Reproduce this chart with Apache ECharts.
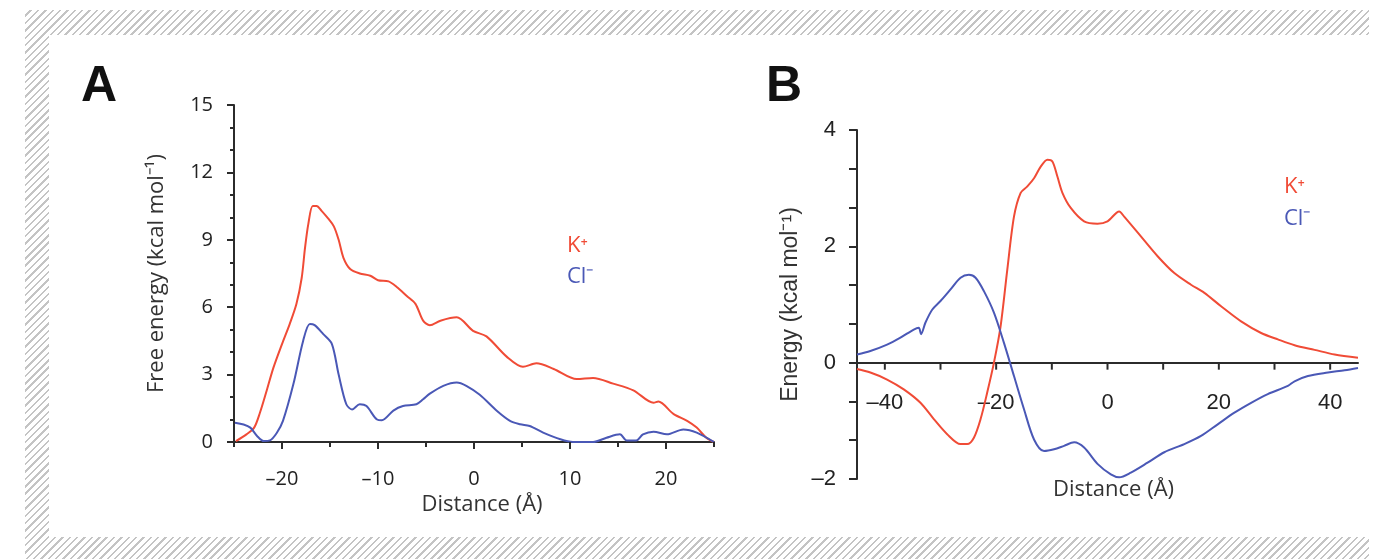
<!DOCTYPE html>
<html>
<head>
<meta charset="utf-8">
<script src="https://cdn.jsdelivr.net/npm/echarts@6/dist/echarts.min.js"></script>
<style>
  html, body { margin: 0; padding: 0; background: #fff; }
  #hatch {
    position: absolute; left: 25px; top: 10px; width: 1344px; height: 549px;
    background: repeating-linear-gradient(135deg, #fff 0px, #fff 3.5px, #c4c4c4 3.5px, #c4c4c4 5.2px);
  }
  #panel { position: absolute; left: 49px; top: 35px; right: 0; height: 502px; background: #fff; }
  #main { position: absolute; left: 0; top: 0; width: 1382px; height: 559px; }
</style>
</head>
<body>
<div id="hatch"></div>
<div id="panel"></div>
<div id="main"></div>
<script>
// panel A : free energy profiles
const distA_K = [-24.8, -23.7, -22.9, -22.3, -21.6, -20.9, -20.0, -19.2, -18.5, -17.95, -17.6, -17.26, -16.8, -16.4, -15.9, -15.2, -14.6, -14.1, -13.6, -12.9, -11.9, -10.8, -10.0, -8.9, -8.05, -7.0, -6.1, -5.3, -4.6, -3.5, -1.8, -0.1, 1.3, 3.4, 5.1, 6.5, 8.3, 10.7, 12.4, 14.5, 16.6, 18.7, 19.2, 20.8, 22.2, 23.2, 24.2, 25];
const energyA_K = [0.04, 0.34, 0.64, 1.3, 2.28, 3.3, 4.36, 5.25, 6.14, 7.3, 8.65, 9.7, 10.5, 10.5, 10.3, 9.95, 9.6, 9.0, 8.2, 7.7, 7.5, 7.4, 7.2, 7.15, 6.9, 6.5, 6.15, 5.4, 5.2, 5.4, 5.55, 4.95, 4.7, 3.8, 3.35, 3.5, 3.25, 2.8, 2.85, 2.6, 2.3, 1.75, 1.8, 1.24, 0.94, 0.64, 0.19, 0];
const distA_Cl = [-24.9, -24.0, -23.3, -22.6, -21.9, -21.25, -20.55, -19.9, -18.8, -17.8, -17.1, -16.6, -15.7, -14.8, -14.1, -13.3, -12.7, -11.9, -11.2, -10.1, -9.6, -8.4, -7.4, -6.0, -5.3, -4.6, -3.2, -1.8, -0.8, 0.6, 2.4, 3.75, 4.8, 5.8, 7.2, 9.0, 10.3, 12.4, 13.8, 15.2, 15.9, 16.9, 17.6, 18.7, 20.1, 21.8, 23.2, 25];
const energyA_Cl = [0.86, 0.78, 0.64, 0.27, 0.04, 0.07, 0.4, 0.94, 2.6, 4.5, 5.25, 5.2, 4.8, 4.36, 3.0, 1.68, 1.45, 1.68, 1.6, 1.0, 0.97, 1.4, 1.6, 1.68, 1.9, 2.15, 2.5, 2.65, 2.5, 2.1, 1.38, 0.94, 0.79, 0.71, 0.42, 0.12, 0, 0, 0.19, 0.34, 0.07, 0.07, 0.34, 0.46, 0.34, 0.56, 0.42, 0];

// panel B : energy profiles
const distB_K = [-45, -42.6, -39.6, -36.6, -33.6, -31.2, -28.8, -26.4, -25.2, -24.0, -22.8, -21.6, -20.4, -19.2, -18.0, -16.8, -15.6, -14.4, -13.2, -12.0, -10.8, -9.9, -9.0, -8.1, -6.6, -4.2, -1.8, 0, 2.1, 3.0, 6.0, 9.0, 12.0, 15.0, 17.4, 20.4, 24.0, 27.6, 30.6, 33.6, 37.2, 40.8, 45];
const energyB_K = [-0.11, -0.17, -0.29, -0.46, -0.69, -0.97, -1.23, -1.40, -1.40, -1.29, -0.97, -0.51, 0, 0.63, 1.6, 2.51, 2.92, 3.03, 3.17, 3.37, 3.49, 3.46, 3.2, 2.92, 2.66, 2.43, 2.39, 2.43, 2.6, 2.51, 2.17, 1.83, 1.54, 1.34, 1.2, 0.97, 0.71, 0.51, 0.4, 0.3, 0.22, 0.14, 0.086];
const distB_Cl = [-45, -42.6, -39.6, -37.2, -34.8, -33.9, -33.5, -32.7, -31.5, -30, -28.2, -26.4, -24.9, -23.7, -22.2, -20.4, -18.6, -16.8, -15.0, -13.2, -11.4, -9.6, -7.8, -6.0, -4.2, -1.8, 0.6, 2.1, 4.2, 7.2, 10.2, 13.8, 16.8, 19.8, 22.8, 25.8, 28.8, 32.4, 33.6, 36, 39.6, 42.6, 45];
const energyB_Cl = [0.14, 0.2, 0.31, 0.43, 0.57, 0.6, 0.49, 0.69, 0.91, 1.06, 1.26, 1.46, 1.51, 1.46, 1.23, 0.86, 0.34, -0.23, -0.8, -1.32, -1.52, -1.49, -1.43, -1.37, -1.46, -1.74, -1.92, -1.97, -1.89, -1.72, -1.54, -1.4, -1.26, -1.06, -0.86, -0.69, -0.54, -0.4, -0.32, -0.23, -0.17, -0.13, -0.09];

// tick positions
const ticksA_x = [-25, -20, -15, -10, -5, 0, 5, 10, 15, 20, 25];
const labelsA_x = [-20, -10, 0, 10, 20];
const ticksB_x = [-40, -30, -20, -10, 0, 10, 20, 30, 40];
const labelsB_x = [-40, -20, 0, 20, 40];

const seriesNames = ['K\u207A', 'Cl\u207B'];
const red = '#f04b36';
const blue = '#4a58b6';
const axisColor = '#2b2b2b';

// grid B geometry, the x axis is moved up onto energy = 0
const gridB = { left: 857, top: 130, width: 501, height: 349 };
const yMinB = -2, yMaxB = 4;
const zeroOffsetB = -gridB.height * (0 - yMinB) / (yMaxB - yMinB);

function pairs(xs, ys) {
  return xs.map(function (x, i) { return [x, ys[i]]; });
}
function dash(v) {
  return v < 0 ? '\u2013' + Math.abs(v) : String(v);
}

function setOption(chart) {
  const fontA = '"Open Sans", sans-serif';
  const fontB = '"Liberation Sans", Arial, sans-serif';
  const option = {
    animation: false,
    backgroundColor: 'transparent',
    grid: [
      { left: 234, top: 105, width: 480, height: 337, outerBoundsMode: 'none' },
      Object.assign({ outerBoundsMode: 'none' }, gridB)
    ],
    legend: [
      {
        left: 557, top: 230, orient: 'vertical', itemWidth: 0, itemGap: 9, icon: 'none',
        data: [
          { name: seriesNames[0], textStyle: { color: red } },
          { name: seriesNames[1], textStyle: { color: blue } }
        ],
        textStyle: { fontSize: 22, fontFamily: fontA }
      },
      {
        left: 1274, top: 171, orient: 'vertical', itemWidth: 0, itemGap: 10, icon: 'none',
        data: [
          { name: seriesNames[0], textStyle: { color: red } },
          { name: seriesNames[1], textStyle: { color: blue } }
        ],
        textStyle: { fontSize: 22, fontFamily: fontA }
      }
    ],
    xAxis: [
      {
        gridIndex: 0, type: 'value', min: -25, max: 25,
        name: 'Distance (\u00C5)', nameLocation: 'middle', nameGap: 50,
        nameTextStyle: { fontSize: 22, fontFamily: fontA, color: '#333', padding: [0, 0, 0, 16] },
        axisLine: { onZero: false, lineStyle: { color: axisColor, width: 2 } },
        axisTick: { show: false },
        axisLabel: { customValues: labelsA_x, margin: 27, fontSize: 20, fontFamily: fontA, color: '#222', formatter: dash },
        splitLine: { show: false }
      },
      {
        gridIndex: 1, type: 'value', min: -45, max: 45, offset: zeroOffsetB,
        name: 'Distance (\u00C5)', nameLocation: 'middle', nameGap: 116,
        nameTextStyle: { fontSize: 22, fontFamily: fontA, color: '#333', padding: [0, 0, 0, 12] },
        axisLine: { onZero: false, lineStyle: { color: axisColor, width: 2 } },
        axisTick: { show: false },
        axisLabel: { customValues: labelsB_x, margin: 29, fontSize: 22, fontFamily: fontB, color: '#222', formatter: dash },
        splitLine: { show: false }
      }
    ],
    yAxis: [
      {
        gridIndex: 0, type: 'value', min: 0, max: 15, interval: 3,
        name: 'Free energy (kcal mol\u207B\u00B9)', nameLocation: 'middle', nameGap: 66,
        nameTextStyle: { fontSize: 22, fontFamily: fontA, color: '#333' },
        axisLine: { show: true, onZero: false, lineStyle: { color: axisColor, width: 2 } },
        axisTick: { show: true, length: 7, lineStyle: { width: 2 } },
        minorTick: { show: true, splitNumber: 3, length: 4, lineStyle: { color: axisColor, width: 2 } },
        axisLabel: { margin: 21, fontSize: 20, fontFamily: fontA, color: '#222' },
        splitLine: { show: false }
      },
      {
        gridIndex: 1, type: 'value', min: yMinB, max: yMaxB, interval: 2,
        name: 'Energy (kcal mol\u207B\u00B9)', nameLocation: 'middle', nameGap: 55,
        nameTextStyle: { fontSize: 23, fontFamily: fontB, color: '#333' },
        axisLine: { show: true, onZero: false, lineStyle: { color: axisColor, width: 2 } },
        axisTick: { show: true, length: 8, lineStyle: { width: 2 } },
        minorTick: { show: true, splitNumber: 3, length: 8, lineStyle: { color: axisColor, width: 2 } },
        axisLabel: { margin: 21, fontSize: 22, fontFamily: fontB, color: '#222', formatter: dash },
        splitLine: { show: false }
      }
    ],
    series: [
      { name: seriesNames[0], type: 'line', xAxisIndex: 0, yAxisIndex: 0, data: pairs(distA_K, energyA_K),
        smooth: 0.3, showSymbol: false, lineStyle: { color: red, width: 2 }, itemStyle: { color: red } },
      { name: seriesNames[1], type: 'line', xAxisIndex: 0, yAxisIndex: 0, data: pairs(distA_Cl, energyA_Cl),
        smooth: 0.3, showSymbol: false, lineStyle: { color: blue, width: 2 }, itemStyle: { color: blue } },
      { name: seriesNames[0], type: 'line', xAxisIndex: 1, yAxisIndex: 1, data: pairs(distB_K, energyB_K),
        smooth: 0.3, showSymbol: false, lineStyle: { color: red, width: 2 }, itemStyle: { color: red } },
      { name: seriesNames[1], type: 'line', xAxisIndex: 1, yAxisIndex: 1, data: pairs(distB_Cl, energyB_Cl),
        smooth: 0.3, showSymbol: false, lineStyle: { color: blue, width: 2 }, itemStyle: { color: blue } }
    ],
    graphic: [
      { id: 'letterA', type: 'text', left: 81, top: 62, style: { text: 'A', font: 'bold 50px "Liberation Sans", Arial, sans-serif', fill: '#111' } },
      { id: 'letterB', type: 'text', left: 766, top: 62, style: { text: 'B', font: 'bold 50px "Liberation Sans", Arial, sans-serif', fill: '#111' } }
    ]
  };
  chart.setOption(option);
}

// x ticks: positions come from the grid's own scales after the first layout
function addTicks(chart) {
  const els = [];
  ticksA_x.forEach(function (v, i) {
    const p = chart.convertToPixel({ gridIndex: 0 }, [v, 0]);
    const len = v % 10 === 0 ? 7 : 5;
    els.push({ id: 'ta' + i, type: 'line', z: 100, silent: true,
      shape: { x1: p[0], y1: p[1], x2: p[0], y2: p[1] + len },
      style: { stroke: axisColor, lineWidth: 2 } });
  });
  ticksB_x.forEach(function (v, i) {
    const p = chart.convertToPixel({ gridIndex: 1 }, [v, 0]);
    els.push({ id: 'tb' + i, type: 'line', z: 100, silent: true,
      shape: { x1: p[0], y1: p[1], x2: p[0], y2: p[1] + 7 },
      style: { stroke: axisColor, lineWidth: 2 } });
  });
  chart.setOption({ graphic: els });
}

const chart = echarts.init(document.getElementById('main'), null, { renderer: 'canvas' });
setOption(chart);
addTicks(chart);
</script>
</body>
</html>
